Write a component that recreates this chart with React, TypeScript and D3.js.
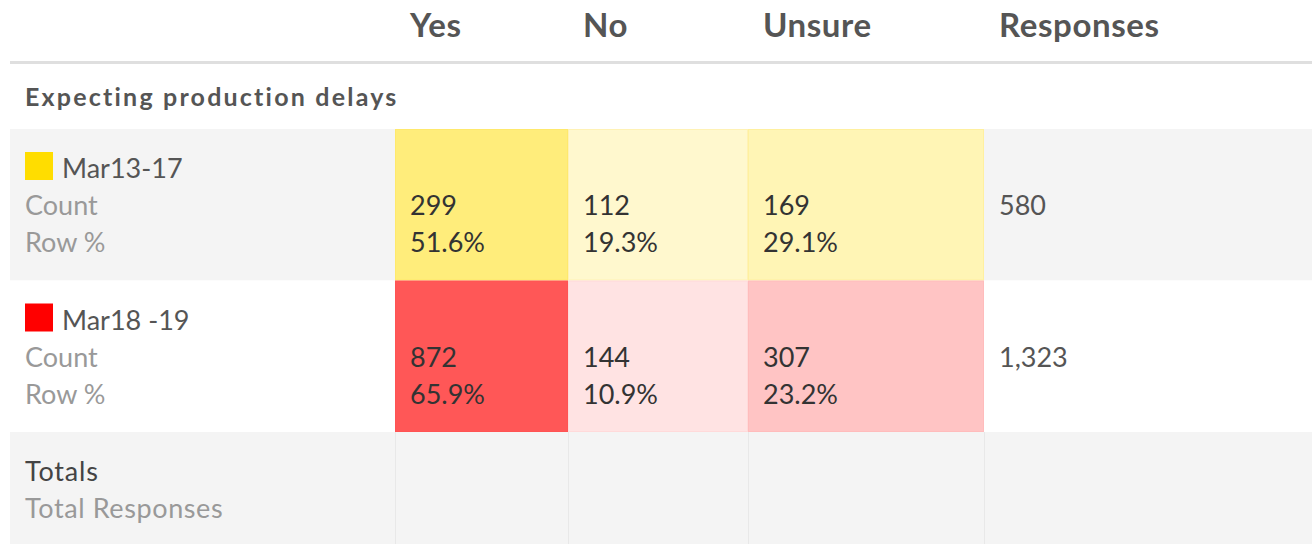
import React, { useEffect, useRef } from 'react';
import * as d3 from 'd3';

// data
const answers = ['Yes', 'No', 'Unsure'];
const sectionTitle = 'Expecting production delays';
const periods = ['Mar13-17', 'Mar18 -19'];
const periodColors = ['#ffdd00', '#ff0000'];
const counts = [
    [299, 112, 169],
    [872, 144, 307],
];
const rowPct = [
    [51.6, 19.3, 29.1],
    [65.9, 10.9, 23.2],
];
const responses = [580, 1323];

// layout
const W = 1312, H = 544;
const colEdges = [10, 395, 568, 748, 984, W];
const rowTop = 129, rowH = 151.5;

function App() {
    const ref = useRef<SVGSVGElement | null>(null);

    useEffect(() => {
        const svg = d3.select(ref.current);
        svg.selectAll('*').remove();
        const font = 'Lato, "Open Sans", sans-serif';
        const bodySize = 27;

        const colX = d3.scaleOrdinal<string, number>()
            .domain(['label', ...answers, 'Responses'])
            .range(colEdges);
        const y = d3.scaleBand<number>()
            .domain(d3.range(periods.length + 1))
            .range([rowTop, rowTop + rowH * (periods.length + 1)]);

        // header
        const heads = [...answers, 'Responses'];
        svg.selectAll('text.head')
            .data(heads)
            .enter()
            .append('text')
            .attr('class', 'head')
            .attr('x', d => colX(d) + 15)
            .attr('y', 37)
            .attr('font-family', font)
            .attr('font-weight', 'bold')
            .attr('font-size', 33)
            .attr('letter-spacing', 0.6)
            .attr('fill', '#555')
            .text(d => d);

        svg.append('rect')
            .attr('x', 10).attr('y', 61)
            .attr('width', W - 10).attr('height', 3)
            .attr('fill', '#dfdfdf');

        svg.append('text')
            .attr('x', 25).attr('y', 106)
            .attr('font-family', font)
            .attr('font-weight', 'bold')
            .attr('font-size', 25)
            .attr('letter-spacing', 2.2)
            .attr('fill', '#555')
            .text(sectionTitle);

        // row backgrounds (striped)
        svg.selectAll('rect.rowbg')
            .data(d3.range(periods.length + 1))
            .enter()
            .append('rect')
            .attr('class', 'rowbg')
            .attr('x', 10)
            .attr('y', d => y(d)!)
            .attr('width', W - 10)
            .attr('height', y.bandwidth())
            .attr('fill', d => (d % 2 === 0 ? '#f4f4f4' : '#fff'));

        // totals row separators
        const lastRow = periods.length;
        svg.selectAll('line.sep')
            .data(colEdges.slice(1, 5))
            .enter()
            .append('line')
            .attr('class', 'sep')
            .attr('x1', d => d + 0.5).attr('x2', d => d + 0.5)
            .attr('y1', y(lastRow)!).attr('y2', H)
            .attr('stroke', '#e8e8e8');

        // heat cells
        periods.forEach((p, r) => {
            const g = svg.append('g');
            const top = y(r)!;
            const shade = (pct: number) => d3.interpolateRgb('#ffffff', periodColors[r])(pct / 100);

            g.selectAll('rect.cell')
                .data(answers)
                .enter()
                .append('rect')
                .attr('class', 'cell')
                .attr('x', a => colX(a))
                .attr('y', top)
                .attr('width', (a, i) => colEdges[i + 2] - colEdges[i + 1])
                .attr('height', y.bandwidth())
                .attr('fill', (a, i) => shade(rowPct[r][i]));

            g.selectAll('rect.edge')
                .data(answers)
                .enter()
                .append('rect')
                .attr('class', 'edge')
                .attr('x', a => colX(a) + 0.5)
                .attr('y', top + 0.5)
                .attr('width', (a, i) => colEdges[i + 2] - colEdges[i + 1] - 1)
                .attr('height', y.bandwidth() - 1)
                .attr('fill', 'none')
                .attr('stroke', r === 0 ? '#ffcc00' : '#ff0000')
                .attr('stroke-opacity', r === 0 ? 0.12 : 0.04);

            // legend swatch + label
            g.append('rect')
                .attr('x', 25).attr('y', top + 23)
                .attr('width', 28).attr('height', 28)
                .attr('fill', periodColors[r]);
            g.append('text')
                .attr('x', 62).attr('y', top + 49)
                .attr('font-family', font).attr('font-size', bodySize)
                .attr('fill', '#555')
                .text(p);
            ['Count', 'Row %'].forEach((lbl, k) => {
                g.append('text')
                    .attr('x', 25).attr('y', top + 86 + k * 37)
                    .attr('font-family', font).attr('font-size', bodySize)
                    .attr('fill', '#999')
                    .text(lbl);
            });

            const fmt = d3.format(',');
            g.selectAll('text.count')
                .data(counts[r])
                .enter()
                .append('text')
                .attr('class', 'count')
                .attr('x', (d, i) => colX(answers[i]) + 15)
                .attr('y', top + 86)
                .attr('font-family', font).attr('font-size', bodySize)
                .attr('fill', '#333')
                .text(d => fmt(d));
            g.selectAll('text.pct')
                .data(rowPct[r])
                .enter()
                .append('text')
                .attr('class', 'pct')
                .attr('x', (d, i) => colX(answers[i]) + 15)
                .attr('y', top + 123)
                .attr('font-family', font).attr('font-size', bodySize)
                .attr('fill', '#333')
                .text(d => d.toFixed(1) + '%');

            g.append('text')
                .attr('x', colX('Responses') + 15)
                .attr('y', top + 86)
                .attr('font-family', font).attr('font-size', bodySize)
                .attr('fill', '#555')
                .text(fmt(responses[r]));
        });

        // totals
        const tTop = y(lastRow)!;
        svg.append('text')
            .attr('x', 25).attr('y', tTop + 49)
            .attr('font-family', font).attr('font-size', bodySize)
            .attr('letter-spacing', 0.8)
            .attr('fill', '#444')
            .text('Totals');
        svg.append('text')
            .attr('x', 25).attr('y', tTop + 86)
            .attr('font-family', font).attr('font-size', bodySize)
            .attr('letter-spacing', 0.6)
            .attr('fill', '#999')
            .text('Total Responses');
    }, []);

    return (
        <svg ref={ref} width={W} height={H}
            style={{ position: 'absolute', left: 0, top: 0, background: '#fff' }} />
    );
}

export default App;
